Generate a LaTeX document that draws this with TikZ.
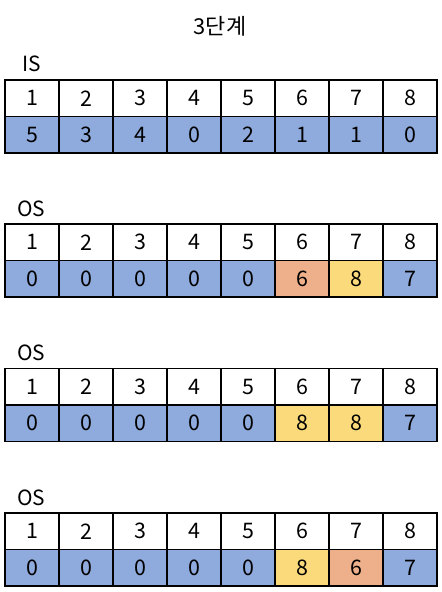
\documentclass[tikz,border=0pt]{standalone}
\usepackage{fontspec}
\setmainfont{Noto Sans CJK KR}
\usepackage{xcolor}
\usepackage{tikz}
\usetikzlibrary{positioning}
\definecolor{cellblue}{HTML}{8FAADC}
\definecolor{cellorange}{HTML}{EEB08A}
\definecolor{cellyellow}{HTML}{FADA7A}
\tikzset{
    cell/.style={
           rectangle,
           fill=white,
           draw=black, line width=1.6bp,
           minimum width=54bp,
           minimum height=36.5bp,
           inner sep=0pt,
           text centered,
           font=\fontsize{21.5}{25}\selectfont,
           },
    tlabel/.style={
           inner sep=0pt,
           anchor=base west,
           font=\fontsize{21}{25}\selectfont,
           },
    heading/.style={
           inner sep=0pt,
           anchor=base,
           font=\fontsize{22}{26}\selectfont,
           },
}

\begin{document}
\begin{tikzpicture}[x=1bp, y=-1bp]
	\useasboundingbox (0,0) rectangle (442,592);

	\node[heading] (title) at (220,34.5) {3단계};

	% IS
	\foreach \v/\c [count=\i] in {5/cellblue,3/cellblue,4/cellblue,0/cellblue,2/cellblue,1/cellblue,1/cellblue,0/cellblue}{
		\node[cell] (is\i) at (-22+54*\i, 98.25) {\i};
		\node[cell, fill=\c] (isv\i) at (-22+54*\i, 134.75) {\v};
	}
	\node[tlabel] (isl) at (22,72) {IS};

	% OS 1
	\foreach \v/\c [count=\i] in {0/cellblue,0/cellblue,0/cellblue,0/cellblue,0/cellblue,6/cellorange,8/cellyellow,7/cellblue}{
		\node[cell] (osa\i) at (-22+54*\i, 242.25) {\i};
		\node[cell, fill=\c] (osav\i) at (-22+54*\i, 278.75) {\v};
	}
	\node[tlabel] (osal) at (17,216) {OS};

	% OS 2
	\foreach \v/\c [count=\i] in {0/cellblue,0/cellblue,0/cellblue,0/cellblue,0/cellblue,8/cellyellow,8/cellyellow,7/cellblue}{
		\node[cell] (osb\i) at (-22+54*\i, 386.75) {\i};
		\node[cell, fill=\c] (osbv\i) at (-22+54*\i, 423.25) {\v};
	}
	\node[tlabel] (osbl) at (17,360.5) {OS};

	% OS 3
	\foreach \v/\c [count=\i] in {0/cellblue,0/cellblue,0/cellblue,0/cellblue,0/cellblue,8/cellyellow,6/cellorange,7/cellblue}{
		\node[cell] (osc\i) at (-22+54*\i, 531.25) {\i};
		\node[cell, fill=\c] (oscv\i) at (-22+54*\i, 567.75) {\v};
	}
	\node[tlabel] (oscl) at (17,505) {OS};

\end{tikzpicture}
\end{document}
